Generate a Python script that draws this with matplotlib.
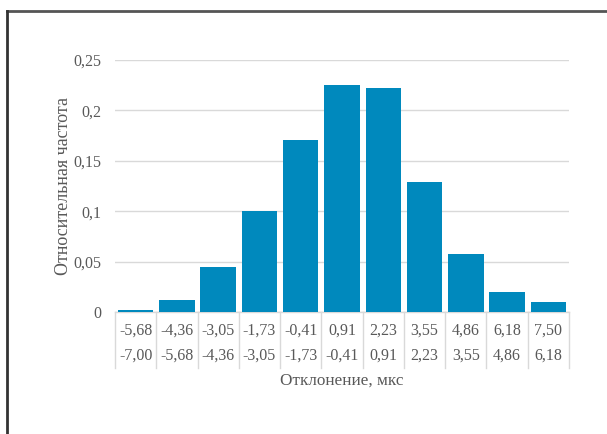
import matplotlib
matplotlib.use("Agg")
import matplotlib.pyplot as plt
from matplotlib.lines import Line2D

upper_bounds = ["-5,68", "-4,36", "-3,05", "-1,73", "-0,41", "0,91", "2,23", "3,55", "4,86", "6,18", "7,50"]
lower_bounds = ["-7,00", "-5,68", "-4,36", "-3,05", "-1,73", "-0,41", "0,91", "2,23", "3,55", "4,86", "6,18"]
frequencies = [0.002, 0.012, 0.045, 0.100, 0.171, 0.225, 0.222, 0.129, 0.058, 0.020, 0.010]
y_ticks = [0, 0.05, 0.10, 0.15, 0.20, 0.25]
y_tick_labels = ["0", "0,05", "0,1", "0,15", "0,2", "0,25"]

W, H = 607, 434
fig = plt.figure(figsize=(W / 100, H / 100), dpi=100)
plt.rcParams['font.family'] = ['Liberation Serif', 'DejaVu Serif']
txt = '#595959'
bar_color = '#0089BD'
grid_color = '#D9D9D9'

left, right, bottom, top = 115, 569, 312, 60
ax = fig.add_axes([left / W, 1 - bottom / H, (right - left) / W, (bottom - top) / H])
x = list(range(len(frequencies)))
ax.bar(x, frequencies, width=0.86, color=bar_color, zorder=3)
ax.set_xlim(-0.5, len(frequencies) - 0.5)
ax.set_ylim(0, 0.25)
ax.set_yticks(y_ticks)
ax.set_yticklabels(y_tick_labels, color=txt, fontsize=11.5)
ax.tick_params(axis='y', length=0, pad=9.5)
ax.set_xticks([])
ax.grid(axis='y', color=grid_color, linewidth=1, zorder=0)
for s in ['top', 'right', 'left']:
    ax.spines[s].set_visible(False)
ax.spines['bottom'].set_color(grid_color)
ax.spines['bottom'].set_linewidth(1)

tr = ax.get_xaxis_transform()
ah = bottom - top
def ay(py):
    return (bottom - py) / ah

for i in range(len(frequencies)):
    ax.text(i, ay(331), upper_bounds[i], transform=tr, ha='center', va='center', fontsize=11.5, color=txt)
    ax.text(i, ay(356), lower_bounds[i], transform=tr, ha='center', va='center', fontsize=11.5, color=txt)
for b in range(len(frequencies) + 1):
    ax.plot([b - 0.5, b - 0.5], [0, ay(368)], transform=tr, color=grid_color, lw=1, clip_on=False)

ax.text(0.5, ay(381), "Отклонение, мкс", transform=ax.transAxes, ha='center', va='center', fontsize=12.3, color=txt)
ax.set_ylabel("Относительная частота", fontsize=13, color=txt)
ax.yaxis.set_label_coords((72 - left) / (right - left), 0.5)

# outer frame (top and left edges visible)
fig.add_artist(Line2D([6.5 / W, 1], [1 - 11 / H, 1 - 11 / H], transform=fig.transFigure, color='#555555', lw=2))
fig.add_artist(Line2D([6.5 / W, 6.5 / W], [0, 1 - 11 / H], transform=fig.transFigure, color='#333333', lw=2))

fig.savefig("out.png", dpi=100)
